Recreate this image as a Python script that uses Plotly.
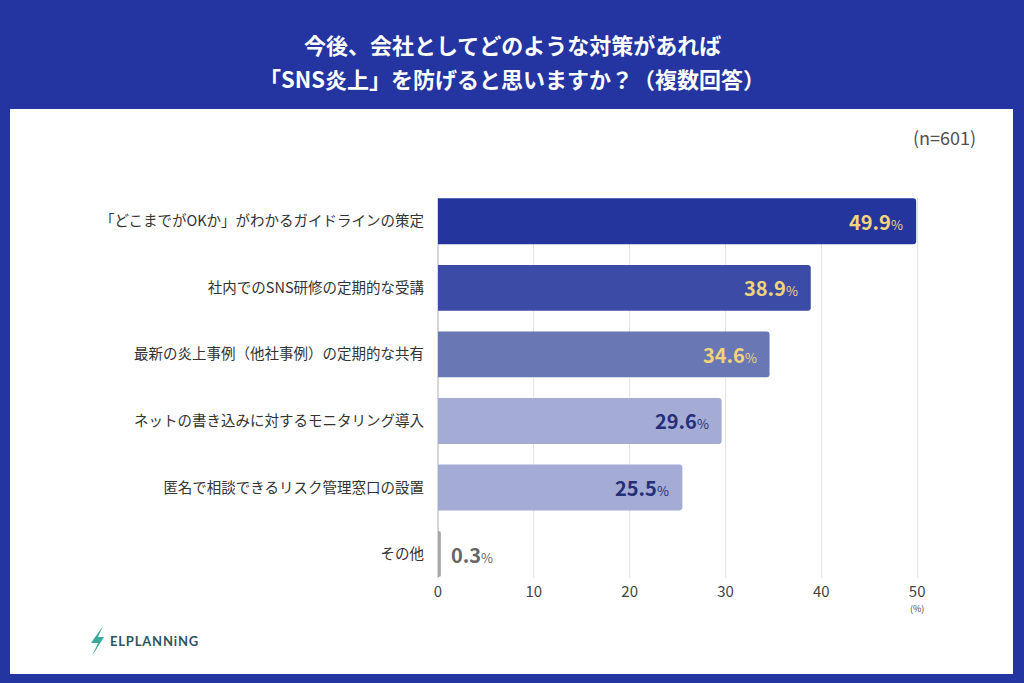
"""SNS炎上対策アンケート 横棒グラフ"""
import plotly.graph_objects as go

# data
categories = [
    "「どこまでがOKか」がわかるガイドラインの策定",
    "社内でのSNS研修の定期的な受講",
    "最新の炎上事例（他社事例）の定期的な共有",
    "ネットの書き込みに対するモニタリング導入",
    "匿名で相談できるリスク管理窓口の設置",
    "その他",
]
values = [49.9, 38.9, 34.6, 29.6, 25.5, 0.3]
x_ticks = [0, 10, 20, 30, 40, 50]
title_lines = ["今後、会社としてどのような対策があれば", "「SNS炎上」を防げると思いますか？（複数回答）"]
sample_note = "(n=601)"

bar_colors = ["#24359e", "#3c4ca6", "#6a77b5", "#a4acd6", "#a4acd6", "#a8a8a8"]
label_colors = ["#f2d47a", "#f2d47a", "#f2d47a", "#252f78", "#252f78", "#666666"]

BLUE = "#2434a0"
FONT = "Noto Sans CJK JP"

# plot area in pixels (x=0 at 438, x=50 at 917)
L, R, T, B = 438, 920, 198, 578
W, H = R - L, B - T


def px(x):
    return (x - L) / W


def py(y):
    return (B - y) / H


fig = go.Figure()
fig.add_trace(go.Bar(
    y=categories, x=values, orientation="h",
    marker=dict(color=bar_colors, cornerradius=3, line=dict(width=0)),
    width=0.69, hoverinfo="skip",
))

annotations = []
for cat, v, c in zip(categories, values, label_colors):
    txt = "<b>%.1f</b><span style='font-size:13px'>%%</span>" % v
    if v > 5:
        annotations.append(dict(x=v, y=cat, xref="x", yref="y", text=txt, showarrow=False,
                                xanchor="right", xshift=-11,
                                font=dict(size=20, color=c, family=FONT)))
    else:
        annotations.append(dict(x=v, y=cat, xref="x", yref="y", text=txt, showarrow=False,
                                xanchor="left", xshift=8,
                                font=dict(size=20, color=c, family=FONT)))

# title, centered on the page
for i, line in enumerate(title_lines):
    annotations.append(dict(x=px(512), y=py(44 + 34 * i), xref="paper", yref="paper",
                            text="<b>%s</b>" % line, showarrow=False,
                            xanchor="center", yanchor="middle",
                            font=dict(size=22, color="white", family=FONT)))

annotations.append(dict(x=px(978), y=py(137), xref="paper", yref="paper", text=sample_note,
                        showarrow=False, xanchor="right", yanchor="middle",
                        font=dict(size=18, color="#505050", family=FONT)))
annotations.append(dict(x=50, y=py(608), xref="x", yref="paper", text="(%)",
                        showarrow=False, xanchor="center", yanchor="middle",
                        font=dict(size=9, color="#444444", family=FONT)))
annotations.append(dict(x=px(108), y=py(641), xref="paper", yref="paper",
                        text="<b>E\u200aL\u200aP\u200aL\u200aA\u200aN\u200aN\u200ai\u200aN\u200aG</b>",
                        showarrow=False, xanchor="left", yanchor="middle",
                        font=dict(size=13, color="#2d5560", family="Lato")))

shapes = [
    # white panel
    dict(type="rect", xref="paper", yref="paper", layer="below",
         x0=px(10), x1=px(1013), y0=py(674), y1=py(109),
         fillcolor="white", line=dict(width=0)),
    # lightning bolt logo
    dict(type="path", xref="paper", yref="paper",
         path="M %f,%f L %f,%f L %f,%f L %f,%f L %f,%f L %f,%f Z" % (
             px(103), py(626), px(91), py(643), px(98), py(643),
             px(92), py(656), px(104), py(637), px(98), py(637)),
         fillcolor="#38a99a", line=dict(width=0)),
]

fig.update_layout(
    width=1024, height=683,
    margin=dict(l=L, r=1024 - R, t=T, b=683 - B),
    paper_bgcolor=BLUE, plot_bgcolor="rgba(0,0,0,0)",
    showlegend=False, bargap=0.31,
    font=dict(family=FONT, color="#333333"),
    xaxis=dict(range=[0, 50.3], tickvals=x_ticks, showgrid=True, gridcolor="#e3e3e3",
               gridwidth=1, zeroline=True, zerolinecolor="#d8d8d8", showline=False,
               tickfont=dict(size=15, color="#444444"), ticks="", ticklabelstandoff=3,
               fixedrange=True),
    yaxis=dict(range=[5.36, -0.35], showgrid=False, zeroline=False, showline=False,
               tickfont=dict(size=14.5, color="#333333"), ticks="outside", ticklen=10,
               tickcolor="rgba(0,0,0,0)"),
    annotations=annotations, shapes=shapes,
)

# page margin off so the figure sits at the window origin
fig.write_html("out.html", config={"displayModeBar": False},
               post_script="document.body.style.margin='0';")
